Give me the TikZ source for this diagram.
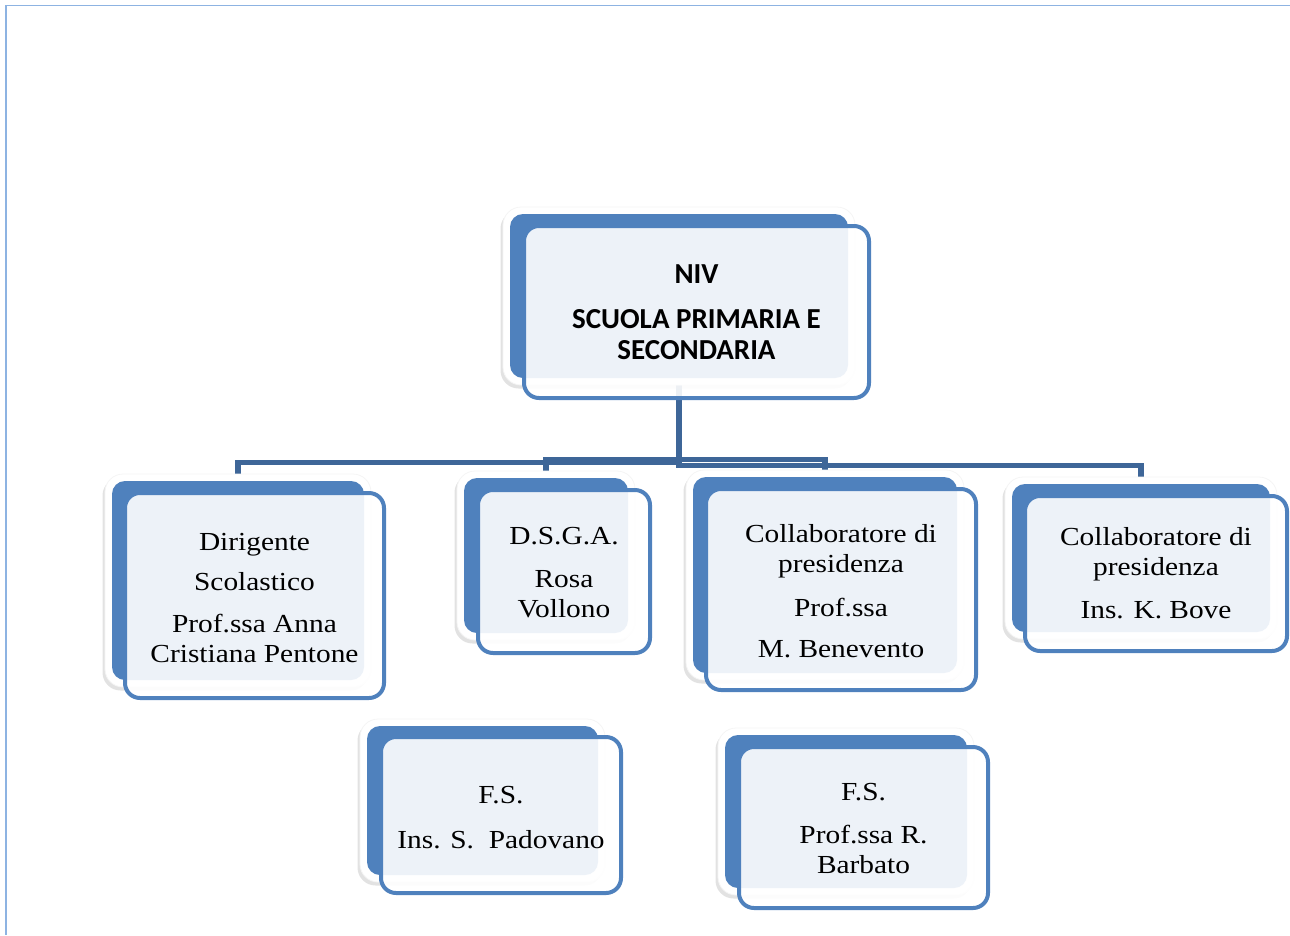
\documentclass[tikz,border=0pt]{standalone}
\usepackage{fontspec}
\newfontfamily\boxfont[FakeStretch=1.13]{Liberation Serif}
\newfontfamily\headfont{Carlito}
\usetikzlibrary{fit,shadows}
\pgfdeclarelayer{back}
\pgfsetlayers{back,main}
\definecolor{accent}{RGB}{79,129,189}
\definecolor{connc}{RGB}{62,102,152}
\definecolor{framec}{RGB}{141,179,226}
\newcommand\orgbox[9]{%
  \node[backbox, fit={(#2-7,#3-7)(#4+7,#5+7)}] (#1w) {};
  \node[bluebox, fit={(#2,#3)(#4,#5)}] (#1b) {};
  \node[frontbox, fit={(#6+2,#7+2)(#8-2,#9-2)}] (#1) {};
}
\newcommand\boxlines[1]{\begin{tabular}[t]{@{}c@{}}#1\end{tabular}}
\begin{document}
\begin{tikzpicture}[x=1pt,y=-1pt,
  backbox/.style={rectangle, inner sep=0pt, fill=white, draw=black!4, line width=0.8pt,
    rounded corners=18pt,
    drop shadow={shadow xshift=-2.5pt, shadow yshift=-3.5pt, opacity=0.25, fill=black!45}},
  bluebox/.style={rectangle, inner sep=0pt, fill=accent, rounded corners=13pt},
  frontbox/.style={rectangle, inner sep=0pt, draw=accent, line width=4pt,
    fill=white, fill opacity=0.9, rounded corners=15pt},
  conn/.style={draw=connc, line width=5.5pt},
  txt/.style={inner sep=0pt, anchor=base, font=\boxfont\fontsize{26}{30}\selectfont},
  head/.style={inner sep=0pt, anchor=base, font=\headfont\bfseries\fontsize{29}{31}\selectfont},
  frameline/.style={draw=framec}
]
\useasboundingbox (0,0) rectangle (1290,935);
\draw[frameline, line width=1.5pt] (5,5.5) -- (1290,5.5);
\draw[frameline, line width=2.5pt] (6,5) -- (6,935);

\orgbox{niv}{510}{214}{848}{378}{522}{224}{871}{400}
\orgbox{dir}{112}{481}{364}{680}{123}{491}{386}{700}
\orgbox{dsga}{464}{478}{628}{633}{476}{488}{652}{655}
\orgbox{cola}{693}{477}{957}{673}{704}{487}{978}{692}
\orgbox{colb}{1012}{484}{1270}{632}{1023}{494}{1289}{653}
\orgbox{fsa}{367}{726}{598}{875}{379}{735}{623}{895}
\orgbox{fsb}{725}{735}{967}{888}{737}{745}{990}{910}

\node[head] (nivt) at (696.5,283) {\boxlines{NIV\\[14pt] SCUOLA PRIMARIA E\\ SECONDARIA}};
\node[txt] (dirt) at (254.5,550) {\boxlines{Dirigente\\[10pt] Scolastico\\[12pt] Prof.ssa Anna\\ Cristiana Pentone}};
\node[txt] (dsgat) at (564,544) {\boxlines{D.S.G.A.\\[13pt] Rosa\\ Vollono}};
\node[txt] (colat) at (841,542) {\boxlines{Collaboratore di\\ presidenza\\[14pt] Prof.ssa\\[11pt] M. Benevento}};
\node[txt] (colbt) at (1156,545) {\boxlines{Collaboratore di\\ presidenza\\[13pt] Ins. K. Bove}};
\node[txt] (fsat) at (501,803) {\boxlines{F.S.\\[15pt] Ins. S.\ \ Padovano}};
\node[txt] (fsbt) at (863.5,800) {\boxlines{F.S.\\[13pt] Prof.ssa R.\\ Barbato}};

\begin{pgfonlayer}{back}
  \coordinate (ya) at (0,462.5);
  \coordinate (yb) at (0,459.5);
  \coordinate (yc) at (0,465.5);
  \draw[conn] (nivb.south) -- (nivb.south |- ya) -| (dirb.north);
  \draw[conn] (nivb.south) -- (nivb.south |- yb) -| (dsgab.north);
  \draw[conn] (nivb.south) -- (nivb.south |- yb) -| (colab.north);
  \draw[conn] (nivb.south) -- (nivb.south |- yc) -| (colbb.north);
\end{pgfonlayer}
\end{tikzpicture}
\end{document}
